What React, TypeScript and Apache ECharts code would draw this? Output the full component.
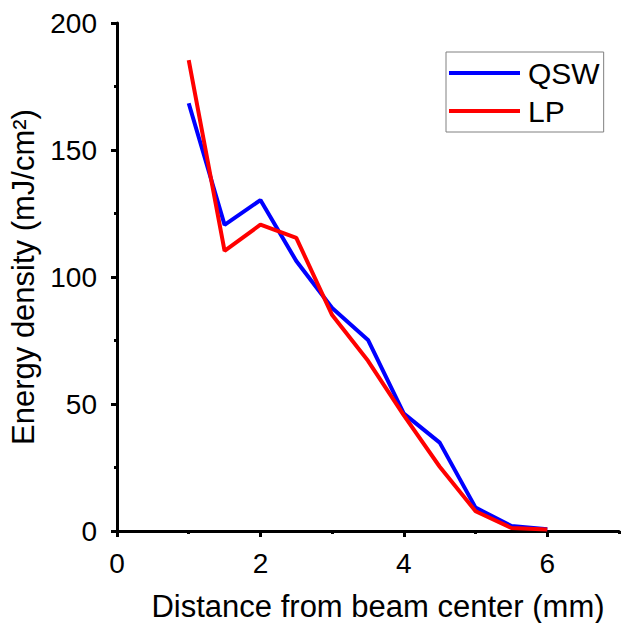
import React, { useEffect, useRef } from "react";
import * as echarts from "echarts";

const distances = [1, 1.5, 2, 2.5, 3, 3.5, 4, 4.5, 5, 5.5, 6];
const qswValues = [168.4, 120.5, 130.3, 106.3, 87.8, 75.2, 46.2, 34.8, 9.2, 2.0, 0.7];
const lpValues = [185.4, 110.3, 120.6, 115.4, 85.0, 67.0, 45.5, 25.3, 7.8, 1.2, 0.6];
const xMajorTicks = [0, 2, 4, 6];
const xMinorTicks = [1, 3, 5, 7];
const seriesNames = ["QSW", "LP"];
const xTitle = "Distance from beam center (mm)";
const yTitle = "Energy density (mJ/cm\u00B2)";

const FONT = "'Liberation Sans', Arial, sans-serif";

export default function App() {
  const ref = useRef<HTMLDivElement>(null);
  useEffect(() => {
    if (!ref.current) return;
    const chart = echarts.init(ref.current, null, { renderer: "svg" });
    const axisLine = { show: true, lineStyle: { color: "#000", width: 3 } };
    chart.setOption({
      animation: false,
      backgroundColor: "#fff",
      textStyle: { fontFamily: FONT },
      grid: {
        left: 117,
        right: 9,
        top: 23,
        bottom: 92,
        containLabel: false,
        outerBoundsMode: "none",
      },
      legend: {
        orient: "vertical",
        left: 446,
        top: 52,
        padding: [6, 4, 6, 3],
        itemGap: 8,
        icon: "rect",
        itemWidth: 71,
        itemHeight: 4,
        borderColor: "#808080",
        borderWidth: 1,
        backgroundColor: "#fff",
        textStyle: { fontSize: 30, color: "#000", fontFamily: FONT, padding: [0, 0, 0, 3] },
        data: seriesNames,
      },
      xAxis: [
        {
          type: "value",
          min: 0,
          max: 7,
          interval: 1,
          axisLine,
          splitLine: { show: false },
          axisTick: {
            show: true,
            inside: false,
            length: 6,
            lineStyle: { color: "#000", width: 3 },
            customValues: xMajorTicks,
          },
          axisLabel: {
            fontSize: 28,
            color: "#000",
            fontFamily: FONT,
            margin: 18,
            customValues: xMajorTicks,
          },
          name: xTitle,
          nameLocation: "middle",
          nameGap: 60,
          nameTextStyle: { fontSize: 31, color: "#000", fontFamily: FONT, padding: [0, 0, 0, 20] },
        },
        {
          type: "value",
          min: 0,
          max: 7,
          interval: 1,
          position: "bottom",
          axisLine: { show: false },
          splitLine: { show: false },
          axisTick: {
            show: true,
            inside: false,
            length: 3,
            lineStyle: { color: "#000", width: 3 },
            customValues: xMinorTicks,
          },
          axisLabel: { show: false },
        },
      ],
      yAxis: {
        type: "value",
        min: 0,
        max: 200,
        interval: 50,
        axisLine,
        splitLine: { show: false },
        axisTick: { show: true, inside: false, length: 6, lineStyle: { color: "#000", width: 3 } },
        minorTick: { show: true, splitNumber: 2, length: 3, lineStyle: { color: "#000", width: 3 } },
        minorSplitLine: { show: false },
        axisLabel: { fontSize: 28, color: "#000", fontFamily: FONT, margin: 20 },
        name: yTitle,
        nameLocation: "middle",
        nameGap: 64,
        nameTextStyle: { fontSize: 31, color: "#000", fontFamily: FONT },
      },
      series: [
        {
          name: seriesNames[0],
          type: "line",
          xAxisIndex: 0,
          symbol: "none",
          lineStyle: { color: "#0000ff", width: 4 },
          itemStyle: { color: "#0000ff" },
          data: distances.map((d, i) => [d, qswValues[i]]),
        },
        {
          name: seriesNames[1],
          type: "line",
          xAxisIndex: 0,
          symbol: "none",
          lineStyle: { color: "#ff0000", width: 4 },
          itemStyle: { color: "#ff0000" },
          data: distances.map((d, i) => [d, lpValues[i]]),
        },
      ],
    });
    return () => chart.dispose();
  }, []);
  return (
    <div
      ref={ref}
      style={{ position: "fixed", left: 0, top: 0, width: 628, height: 623, background: "#fff" }}
    />
  );
}
